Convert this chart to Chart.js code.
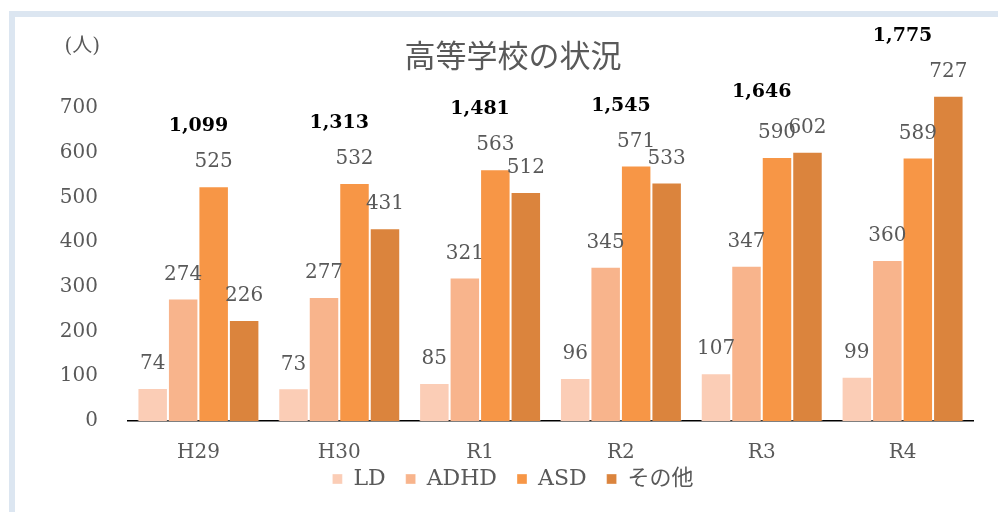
<!DOCTYPE html>
<html>
<head>
<meta charset="utf-8">
<script src="https://cdn.jsdelivr.net/npm/chart.js@4.4.1/dist/chart.umd.min.js"></script>
<style>
  html, body { margin: 0; padding: 0; background: #fff; width: 998px; height: 512px; overflow: hidden; }
  #panel { position: absolute; left: 9px; top: 11px; width: 1100px; height: 600px;
           border-left: 6px solid #dce6f1; border-top: 6px solid #dce6f1; }
  #wrap { position: absolute; left: 0; top: 0; width: 998px; height: 512px; }
</style>
</head>
<body>
<div id="panel"></div>
<div id="wrap"><canvas id="schoolChart"></canvas></div>
<script>
const years = ['H29', 'H30', 'R1', 'R2', 'R3', 'R4'];
const ld   = [74, 73, 85, 96, 107, 99];
const adhd = [274, 277, 321, 345, 347, 360];
const asd  = [525, 532, 563, 571, 590, 589];
const other = [226, 431, 512, 533, 602, 727];
const totals = [1099, 1313, 1481, 1545, 1646, 1775];
const yTicks = [0, 100, 200, 300, 400, 500, 600, 700];

const serif = "'DejaVu Serif', 'Noto Sans CJK JP', serif";
const gray = '#595959';

// value labels on each bar, totals above each group, unit label
const labelsPlugin = {
    id: 'barLabels',
    afterDatasetsDraw(chart) {
        const c = chart.ctx;
        c.save();
        c.textAlign = 'center';
        c.textBaseline = 'middle';
        c.font = '20px ' + serif;
        c.fillStyle = gray;
        chart.data.datasets.forEach((ds, i) => {
            chart.getDatasetMeta(i).data.forEach((bar, j) => {
                c.fillText(ds.data[j], bar.x, bar.y - 24);
            });
        });

        const y = chart.scales.y;
        c.font = 'bold 19px ' + serif;
        c.fillStyle = '#000';
        years.forEach((yr, j) => {
            const top = Math.max(ld[j], adhd[j], asd[j], other[j]);
            const x = chart.scales.x.getPixelForValue(j);
            c.fillText(totals[j].toLocaleString('en-US'), x, y.getPixelForValue(top) - 60);
        });

        c.font = '20px ' + serif;
        c.fillStyle = gray;
        c.textAlign = 'right';
        c.fillText('(人)', chart.chartArea.left - 28, 47);
        c.restore();
    }
};

const ctx = document.getElementById('schoolChart');
new Chart(ctx.getContext('2d'), {
    type: 'bar',
    data: {
        labels: years,
        datasets: [
            { label: 'LD', data: ld, backgroundColor: '#fbcdb6' },
            { label: 'ADHD', data: adhd, backgroundColor: '#f8b48c' },
            { label: 'ASD', data: asd, backgroundColor: '#f79646' },
            { label: 'その他', data: other, backgroundColor: '#db843d' }
        ].map(d => Object.assign(d, {
            borderColor: 'rgba(255,255,255,0.35)',
            borderWidth: 1,
            categoryPercentage: 0.866,
            barPercentage: 1.0
        }))
    },
    options: {
        responsive: true,
        maintainAspectRatio: false,
        animation: false,
        layout: { padding: { left: 53, right: 25, top: 0, bottom: 12 } },
        plugins: {
            title: {
                display: true,
                text: '高等学校の状況',
                color: gray,
                font: { family: "'Noto Sans CJK JP', sans-serif", size: 31, weight: 'normal' },
                padding: { top: 37, bottom: -11 }
            },
            legend: {
                position: 'bottom',
                labels: {
                    color: gray,
                    font: { family: serif, size: 22 },
                    boxWidth: 10,
                    boxHeight: 10,
                    padding: 20
                }
            },
            tooltip: { enabled: false }
        },
        scales: {
            x: {
                grid: { display: false, drawTicks: false },
                border: { display: true, color: '#000', width: 1.5 },
                // keep the axis short so the legend sits close, and let labels overflow it
                afterFit: s => { s.height = 27; s._computeLabelArea = () => undefined; },
                ticks: { color: gray, font: { family: serif, size: 20 }, padding: 20 }
            },
            y: {
                min: 0,
                max: 800,
                grid: { display: false, drawTicks: false },
                border: { display: false },
                afterFit: s => { s.width = 75; },
                afterBuildTicks: s => { s.ticks = yTicks.map(v => ({ value: v })); },
                ticks: { color: gray, font: { family: serif, size: 20 }, padding: 30 }
            }
        }
    },
    plugins: [labelsPlugin]
});
</script>
</body>
</html>
